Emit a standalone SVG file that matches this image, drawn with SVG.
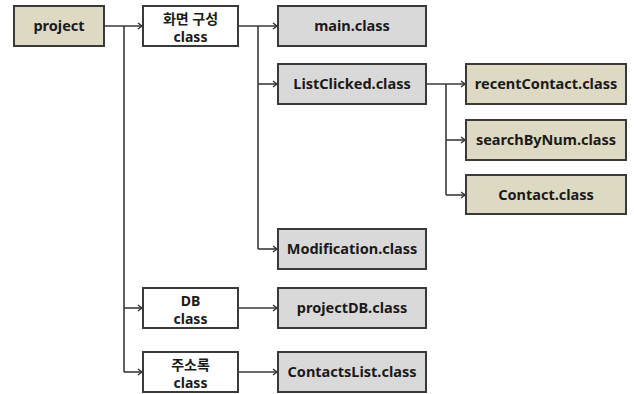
<svg xmlns="http://www.w3.org/2000/svg" width="634" height="394" viewBox="0 0 634 394">
<defs>
<marker id="arr" markerWidth="8" markerHeight="8" refX="6" refY="4" orient="auto" markerUnits="userSpaceOnUse">
<polyline points="2,1 6,4 2,7" fill="none" stroke="#333" stroke-width="1.4"/>
</marker>
<style>
.box{stroke:#3a3a3a;stroke-width:2}
.tan{fill:#ddd9c3}
.gray{fill:#d9d9d9}
.white{fill:#ffffff}
text{font-family:"Noto Sans","Noto Sans CJK KR",sans-serif;font-weight:bold;font-size:14.5px;fill:#1a1a1a;text-anchor:middle}
.two{font-size:14px}
.c{fill:none;stroke:#3a3a3a;stroke-width:1.6}
</style>
</defs>
<rect width="634" height="394" fill="#ffffff"/>
<g id="connectors">
<line class="c" x1="104" y1="26" x2="142" y2="26" marker-end="url(#arr)"/>
<line class="c" x1="124" y1="26" x2="124" y2="372"/>
<line class="c" x1="124" y1="308" x2="142" y2="308" marker-end="url(#arr)"/>
<line class="c" x1="124" y1="372" x2="142" y2="372" marker-end="url(#arr)"/>
<line class="c" x1="238" y1="26" x2="277" y2="26" marker-end="url(#arr)"/>
<line class="c" x1="258" y1="26" x2="258" y2="249"/>
<line class="c" x1="258" y1="84" x2="277" y2="84" marker-end="url(#arr)"/>
<line class="c" x1="258" y1="249" x2="277" y2="249" marker-end="url(#arr)"/>
<line class="c" x1="238" y1="308" x2="277" y2="308" marker-end="url(#arr)"/>
<line class="c" x1="238" y1="372" x2="277" y2="372" marker-end="url(#arr)"/>
<line class="c" x1="426" y1="84" x2="465" y2="84" marker-end="url(#arr)"/>
<line class="c" x1="446" y1="84" x2="446" y2="195"/>
<line class="c" x1="446" y1="140" x2="465" y2="140" marker-end="url(#arr)"/>
<line class="c" x1="446" y1="195" x2="465" y2="195" marker-end="url(#arr)"/>
</g>
<g id="project"><rect class="box tan" x="14" y="6" width="90" height="40"/><text x="59" y="31">project</text></g>
<g id="screen"><rect class="box white" x="143" y="6" width="95" height="40"/><text class="two" x="190.5" y="24">화면 구성</text><text class="two" x="190.5" y="42">class</text></g>
<g id="main"><rect class="box gray" x="278" y="6" width="148" height="40"/><text x="352" y="31">main.class</text></g>
<g id="listclicked"><rect class="box gray" x="278" y="64" width="148" height="40"/><text x="352" y="89">ListClicked.class</text></g>
<g id="recentcontact"><rect class="box tan" x="466" y="64" width="160" height="40"/><text x="546" y="89">recentContact.class</text></g>
<g id="searchbynum"><rect class="box tan" x="466" y="120" width="160" height="40"/><text x="546" y="145">searchByNum.class</text></g>
<g id="contact"><rect class="box tan" x="466" y="175" width="160" height="39"/><text x="546" y="200">Contact.class</text></g>
<g id="modification"><rect class="box gray" x="278" y="229" width="148" height="40"/><text x="352" y="254">Modification.class</text></g>
<g id="db"><rect class="box white" x="143" y="288" width="95" height="40"/><text class="two" x="190.5" y="306">DB</text><text class="two" x="190.5" y="324">class</text></g>
<g id="projectdb"><rect class="box gray" x="278" y="288" width="148" height="40"/><text x="352" y="313">projectDB.class</text></g>
<g id="addressbook"><rect class="box white" x="143" y="352" width="95" height="40"/><text class="two" x="190.5" y="370">주소록</text><text class="two" x="190.5" y="388">class</text></g>
<g id="contactslist"><rect class="box gray" x="278" y="352" width="148" height="40"/><text x="352" y="377">ContactsList.class</text></g>
</svg>
